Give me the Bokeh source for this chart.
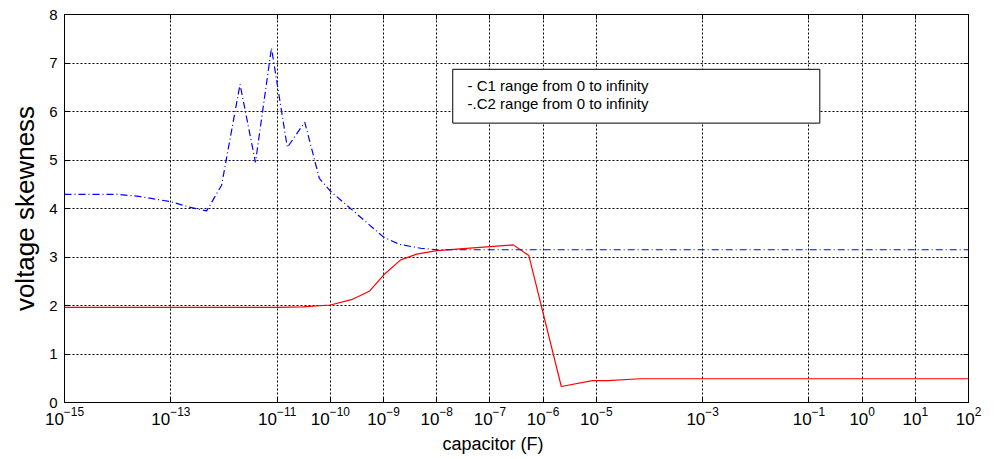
from bokeh.plotting import figure
from bokeh.models import (FixedTicker, LogAxis, LinearAxis, LogTickFormatter,
                          BoxAnnotation, Label, Title)
from bokeh.embed import file_html
from bokeh.resources import INLINE

# ---- data ----
c1_x = [1e-15, 1e-11, 3e-11, 1e-10, 2.5e-10, 5.5e-10, 1.05e-9, 2.1e-9, 4.2e-9,
        1e-8, 2.75e-7, 5.4e-7, 2.2e-6, 8.5e-6, 1.65e-5, 6.6e-5, 1e2]
c1_y = [1.96, 1.96, 1.97, 2.01, 2.12, 2.30, 2.65, 2.94, 3.06,
        3.13, 3.25, 3.03, 0.33, 0.45, 0.45, 0.49, 0.49]

c2_x = [1e-15, 1e-14, 2.5e-14, 1e-13, 2.2e-13, 4.7e-13, 9e-13, 2e-12, 3.9e-12,
        7.8e-12, 1.55e-11, 3.3e-11, 6.2e-11, 1e-10, 1e-9, 2e-9, 5e-9, 1e-8, 1e2]
c2_y = [4.29, 4.29, 4.25, 4.14, 4.03, 3.95, 4.48, 6.56, 4.95,
        7.31, 5.26, 5.78, 4.62, 4.36, 3.41, 3.26, 3.18, 3.15, 3.15]

x_ticks = [1e-15, 1e-13, 1e-11, 1e-10, 1e-9, 1e-8, 1e-7, 1e-6, 1e-5,
           1e-3, 1e-1, 1e0, 1e1, 1e2]
y_ticks = [0, 1, 2, 3, 4, 5, 6, 7, 8]

x_title = "capacitor (F)"
y_title = "voltage skewness"

legend_labels = ["- C1 range from 0 to infinity", "-.C2 range from 0 to infinity"]
legend_text_x = 3.8e-8
legend_text_y = [6.54, 6.17]
legend_box = dict(left=2.0e-8, right=0.16, top=6.87, bottom=5.76)

FONT = "Liberation Sans"

p = figure(width=995, height=459, x_axis_type="log",
           x_range=(1e-15, 1e2), y_range=(0, 8),
           output_backend="svg", toolbar_location=None,
           min_border_left=64, min_border_right=27,
           min_border_top=14, min_border_bottom=57,
           y_axis_label=y_title)

p.background_fill_color = "white"
p.border_fill_color = "white"
p.outline_line_color = "black"
p.outline_line_width = 1

# grids
for g in (p.xgrid, p.ygrid):
    g.grid_line_color = "black"
    g.grid_line_dash = "2 2"
    g.grid_line_width = 1
    g.grid_line_alpha = 1.0
p.xgrid.ticker = FixedTicker(ticks=x_ticks)
p.ygrid.ticker = FixedTicker(ticks=y_ticks)

# axes
xa = p.xaxis[0]
xa.ticker = FixedTicker(ticks=x_ticks)
xa.formatter = LogTickFormatter()
ya = p.yaxis[0]
ya.ticker = FixedTicker(ticks=y_ticks)

for ax in (xa, ya):
    ax.axis_line_color = "black"
    ax.major_tick_in = 5
    ax.major_tick_out = 0
    ax.minor_tick_line_color = None
    ax.major_tick_line_color = "black"
    ax.major_label_text_font = FONT
    ax.major_label_text_font_size = "15px"
    ax.major_label_text_color = "black"
    ax.axis_label_text_font = FONT
    ax.axis_label_text_font_style = "normal"
    ax.axis_label_text_color = "black"

xa.major_label_text_font_size = "17px"
xa.major_label_standoff = 4
ya.axis_label_text_font_size = "26px"
ya.major_label_standoff = 7
ya.axis_label_standoff = 6

# mirrored tick marks on top and right
top = LogAxis(ticker=FixedTicker(ticks=x_ticks),
              major_label_overrides={t: "" for t in x_ticks})
right = LinearAxis(ticker=FixedTicker(ticks=y_ticks),
                   major_label_overrides={t: "" for t in y_ticks})
for ax in (top, right):
    ax.major_tick_in = 5
    ax.major_tick_out = 0
    ax.minor_tick_line_color = None
    ax.axis_line_color = "black"
    ax.major_label_text_font_size = "1px"
    ax.major_label_standoff = 0
p.add_layout(top, "above")
p.add_layout(right, "right")

# series
p.line(c1_x, c1_y, line_color="#ff0000", line_width=1.2)
p.line(c2_x, c2_y, line_color="#0000ff", line_width=1.2, line_dash="7 3 1 3")

# x-axis title (placed like the original, slightly left of centre)
p.add_layout(Title(text=x_title, align="left", offset=378,
                   text_font=FONT, text_font_size="18px",
                   text_font_style="normal", text_color="black",
                   standoff=8), "below")

# legend box (annotation)
p.add_layout(BoxAnnotation(left=legend_box["left"], right=legend_box["right"],
                           top=legend_box["top"], bottom=legend_box["bottom"],
                           fill_color="white", fill_alpha=1.0,
                           line_color="black", line_alpha=1.0, line_width=1))
for lbl, ly in zip(legend_labels, legend_text_y):
    p.add_layout(Label(x=legend_text_x, y=ly, text=lbl,
                       text_font=FONT, text_font_size="15px",
                       text_color="black", text_baseline="middle"))

open("out.html", "w").write(file_html(p, INLINE))
